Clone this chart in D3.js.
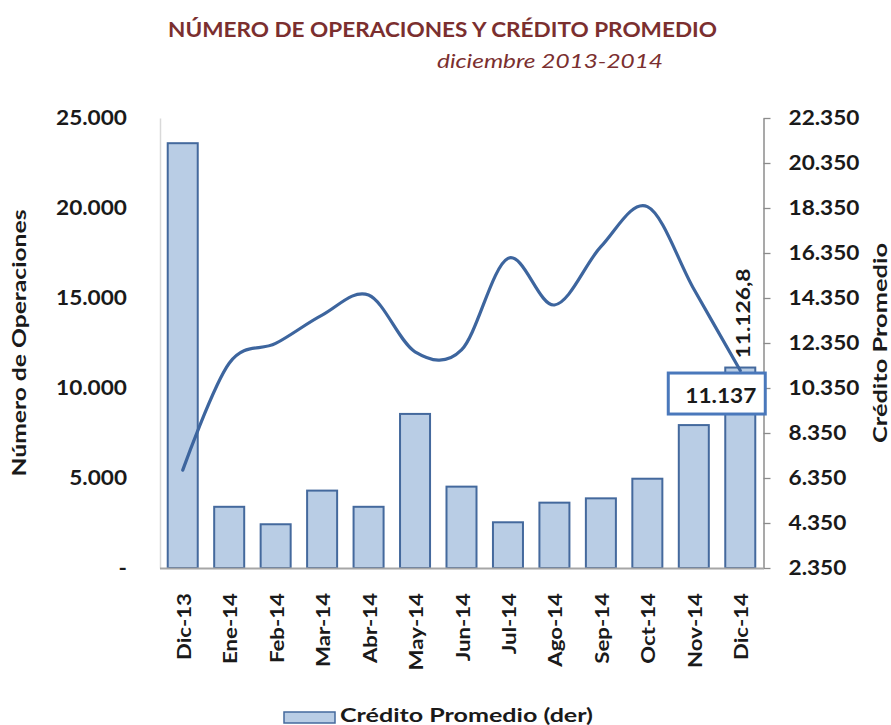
<!DOCTYPE html>
<html><head><meta charset="utf-8">
<script src="https://cdn.jsdelivr.net/npm/d3@7"></script>
<style>body{margin:0;background:#fff}text{font-family:Lato,"Open Sans","DejaVu Sans",sans-serif}</style>
</head><body>
<svg id="c" width="891" height="725"></svg>
<script>
const categories = ["Dic-13","Ene-14","Feb-14","Mar-14","Abr-14","May-14","Jun-14","Jul-14","Ago-14","Sep-14","Oct-14","Nov-14","Dic-14"];
const operaciones = [23600,3400,2430,4300,3400,8560,4520,2540,3630,3870,4960,7940,11137];
const credito = [6700,11450,12330,13590,14480,11960,12040,16110,14040,16630,18410,14750,11126.8];
const leftTicks = [0,5000,10000,15000,20000,25000];
const rightTicks = [2350,4350,6350,8350,10350,12350,14350,16350,18350,20350,22350];
const titleText = "NÚMERO DE OPERACIONES Y CRÉDITO PROMEDIO";
const subtitleText = "diciembre 2013-2014";
const leftTitle = "Número de Operaciones";
const rightTitle = "Crédito Promedio";
const legendText = "Crédito Promedio (der)";

const svg = d3.select("#c");
const loc = d3.formatLocale({decimal:",", thousands:".", grouping:[3], currency:["",""]});
const fmt = loc.format(",.0f");
const fmt1 = loc.format(",.1f");

const barFill = "#b9cde5", barStroke = "#44699d", lineColor = "#3d659e";

const x = d3.scaleBand().domain(categories).range([159.5, 763.5]).paddingInner(0.354).paddingOuter(0.177);
const yL = d3.scaleLinear().domain([0,25000]).range([568,118]);
const yR = d3.scaleLinear().domain([2350,22350]).range([568,118]);

function fitGroup(sel, refText, targetW){
  let ref=null; sel.each(function(){ if(this.textContent===refText) ref=this; });
  if(!ref) return;
  const k = targetW / ref.getComputedTextLength();
  sel.each(function(){ const w=this.getComputedTextLength(); this.setAttribute("textLength", w*k); this.setAttribute("lengthAdjust","spacingAndGlyphs"); });
}

// Title
const t1 = svg.append("text").attr("x",442.5).attr("y",37).attr("text-anchor","middle")
  .attr("font-size",20).attr("font-weight","bold").attr("fill","#7b2f2f").text(titleText);
fitGroup(t1, titleText, 549);
const t2 = svg.append("text").attr("x",550).attr("y",68).attr("text-anchor","middle")
  .attr("font-size",19).attr("font-style","italic").attr("fill","#7b2f2f").text(subtitleText);
fitGroup(t2, subtitleText, 226);

// Left axis
const gL = svg.append("g").attr("transform","translate(160,0)")
  .call(d3.axisLeft(yL).tickValues(leftTicks).tickSize(0).tickPadding(33).tickFormat(d=>d===0?"-":fmt(d)));
gL.select(".domain").attr("stroke","#d9d9d9").attr("stroke-width",1.5);
gL.selectAll("text").attr("font-size",20).attr("font-weight","bold").attr("fill","#1a1a1a").attr("font-family",null);
fitGroup(gL.selectAll("text"), "25.000", 71);

// Right axis
const gR = svg.append("g").attr("transform","translate(763.5,0)")
  .call(d3.axisRight(yR).tickValues(rightTicks).tickSizeInner(7).tickSizeOuter(0).tickPadding(18).tickFormat(fmt));
gR.select(".domain").attr("stroke","#8c8c8c").attr("stroke-width",1.5);
gR.selectAll(".tick line").attr("stroke","#8c8c8c").attr("stroke-width",1.3);
gR.selectAll("text").attr("font-size",20).attr("font-weight","bold").attr("fill","#1a1a1a").attr("font-family",null);
fitGroup(gR.selectAll("text"), "22.350", 71);

// Bars
svg.append("g").selectAll("rect").data(categories).join("rect")
  .attr("x",d=>x(d)).attr("width",x.bandwidth())
  .attr("y",(d,i)=>yL(operaciones[i])).attr("height",(d,i)=>yL(0)-yL(operaciones[i]))
  .attr("fill",barFill).attr("stroke",barStroke).attr("stroke-width",2);

// Bottom axis
const gB = svg.append("g").attr("transform","translate(0,568)")
  .call(d3.axisBottom(x).tickSize(0).tickSizeOuter(0));
gB.select(".domain").attr("stroke","#a6a6a6").attr("stroke-width",2);
gB.selectAll("text").attr("transform","rotate(-90)").attr("x",-25).attr("y",8).attr("dy",0)
  .attr("text-anchor","end").attr("font-size",19).attr("font-weight","bold").attr("fill","#1a1a1a").attr("font-family",null);
fitGroup(gB.selectAll("text"), "Dic-13", 67);

// Line
const line = d3.line().x((d,i)=>x(categories[i])+x.bandwidth()/2).y(d=>yR(d)).curve(d3.curveCardinal);
svg.append("path").datum(credito).attr("d",line).attr("fill","none")
  .attr("stroke",lineColor).attr("stroke-width",3.2).attr("stroke-linecap","round");

// Data labels
const last = categories.length-1;
const cx = x(categories[last])+x.bandwidth()/2;
const barTop = yL(operaciones[last]);
svg.append("rect").attr("x",cx-72).attr("y",barTop+5.5).attr("width",97).attr("height",41)
  .attr("fill","#fff").attr("stroke","#4a78bb").attr("stroke-width",3);
const bl = svg.append("text").attr("x",cx+16).attr("y",barTop+35).attr("text-anchor","end")
  .attr("font-size",20).attr("font-weight","bold").attr("fill","#1a1a1a").text(fmt(operaciones[last]));
fitGroup(bl, fmt(operaciones[last]), 71);
const ll = svg.append("text").attr("transform",`translate(${cx+10},${yR(credito[last])-12}) rotate(-90)`)
  .attr("text-anchor","start").attr("font-size",19).attr("font-weight","bold").attr("fill","#1a1a1a").text(fmt1(credito[last]));
fitGroup(ll, fmt1(credito[last]), 90);

// Axis titles
const at1 = svg.append("text").attr("transform","translate(26,343) rotate(-90)").attr("text-anchor","middle")
  .attr("font-size",18).attr("font-weight","bold").attr("fill","#1a1a1a").text(leftTitle);
fitGroup(at1, leftTitle, 267);
const at2 = svg.append("text").attr("transform","translate(887,343) rotate(-90)").attr("text-anchor","middle")
  .attr("font-size",18).attr("font-weight","bold").attr("fill","#1a1a1a").text(rightTitle);
fitGroup(at2, rightTitle, 200);

// Legend
svg.append("rect").attr("x",284).attr("y",712).attr("width",51).attr("height",11)
  .attr("fill",barFill).attr("stroke",barStroke).attr("stroke-width",1.5);
const lg = svg.append("text").attr("x",340).attr("y",722).attr("font-size",19).attr("font-weight","bold")
  .attr("fill","#1a1a1a").text(legendText);
fitGroup(lg, legendText, 253);
</script>
</body></html>
